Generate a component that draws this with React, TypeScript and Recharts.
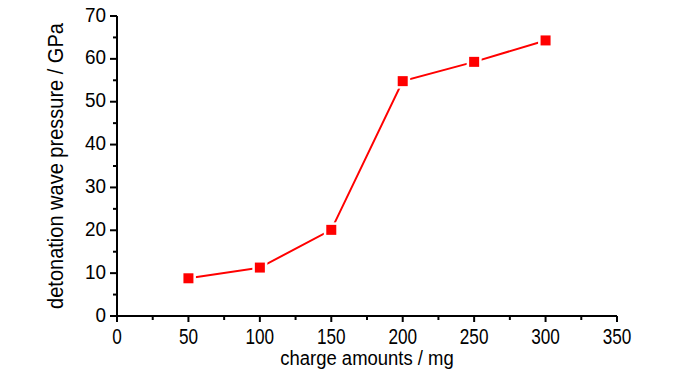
import React from 'react';
import { LineChart, Line, XAxis, YAxis, Label } from 'recharts';

const chargeAmounts = [50, 100, 150, 200, 250, 300];
const pressures = [8.8, 11.3, 20.1, 54.8, 59.3, 64.3];
const xTicks = [0, 25, 50, 75, 100, 125, 150, 175, 200, 225, 250, 275, 300, 325, 350];
const yTicks = [0, 5, 10, 15, 20, 25, 30, 35, 40, 45, 50, 55, 60, 65, 70];
const xMajorStep = 50;
const yMajorStep = 10;
const xTitle = 'charge amounts / mg';
const yTitle = 'detonation wave pressure / GPa';

const data = chargeAmounts.map((c, i) => ({ charge: c, pressure: pressures[i] }));

const FONT = '"Liberation Sans", Arial, sans-serif';

const XTick = (props: any) => {
  const { x, y, payload } = props;
  const major = payload.value % xMajorStep === 0;
  return (
    <g>
      <line x1={x} x2={x} y1={y} y2={y + (major ? 6 : 4)} stroke="#000" strokeWidth={2} />
      {major && (
        <text
          transform={`translate(${x}, ${y + 28}) scale(0.78, 1)`}
          x={0}
          y={0}
          textAnchor="middle"
          fontSize={22}
          fontFamily={FONT}
          fill="#000"
        >
          {payload.value}
        </text>
      )}
    </g>
  );
};

const YTick = (props: any) => {
  const { x, y, payload } = props;
  const major = payload.value % yMajorStep === 0;
  return (
    <g>
      <line x1={x - (major ? 7 : 4)} x2={x} y1={y} y2={y} stroke="#000" strokeWidth={2} />
      {major && (
        <text
          transform={`translate(${x - 11}, ${y + 5.5}) scale(0.9, 1)`}
          x={0}
          y={0}
          textAnchor="end"
          fontSize={21}
          fontFamily={FONT}
          fill="#000"
        >
          {payload.value}
        </text>
      )}
    </g>
  );
};

const SquareDot = (props: any) => {
  const { cx, cy } = props;
  if (cx == null || cy == null) return null;
  return (
    <g>
      <rect x={cx - 7.5} y={cy - 7.5} width={15} height={15} fill="#fff" />
      <rect x={cx - 5} y={cy - 5} width={10} height={10} fill="#ff0000" />
    </g>
  );
};

const XTitle = (props: any) => {
  const vb = props.viewBox || {};
  const cx = vb.x + vb.width / 2;
  const cy = vb.y + 49;
  return (
    <text
      transform={`translate(${cx}, ${cy}) scale(0.88, 1)`}
      x={0}
      y={0}
      textAnchor="middle"
      fontSize={21}
      fontFamily={FONT}
      fill="#000"
    >
      {xTitle}
    </text>
  );
};

const YTitle = (props: any) => {
  const vb = props.viewBox || {};
  const cx = vb.x + 6;
  const cy = vb.y + vb.height / 2;
  return (
    <text
      transform={`translate(${cx}, ${cy}) rotate(-90) scale(0.91, 1)`}
      x={0}
      y={0}
      textAnchor="middle"
      fontSize={22}
      fontFamily={FONT}
      fill="#000"
    >
      {yTitle}
    </text>
  );
};

export default function App() {
  return (
    <div style={{ position: 'absolute', left: 0, top: 0, background: '#fff' }}>
      <LineChart width={700} height={374} data={data} margin={{ top: 16, right: 83, bottom: 0, left: 57 }}>
        <XAxis
          dataKey="charge"
          type="number"
          domain={[0, 350]}
          ticks={xTicks}
          interval={0}
          tickSize={0}
          tickMargin={0}
          tickLine={false}
          tick={<XTick />}
          axisLine={{ stroke: '#000', strokeWidth: 2 }}
          height={58}
        >
          <Label content={<XTitle />} />
        </XAxis>
        <YAxis
          type="number"
          domain={[0, 70]}
          ticks={yTicks}
          interval={0}
          tickSize={0}
          tickMargin={0}
          tickLine={false}
          tick={<YTick />}
          axisLine={{ stroke: '#000', strokeWidth: 2 }}
          width={60}
        >
          <Label content={<YTitle />} />
        </YAxis>
        <Line
          dataKey="pressure"
          stroke="#ff0000"
          strokeWidth={2}
          dot={<SquareDot />}
          activeDot={false}
          isAnimationActive={false}
        />
      </LineChart>
    </div>
  );
}
